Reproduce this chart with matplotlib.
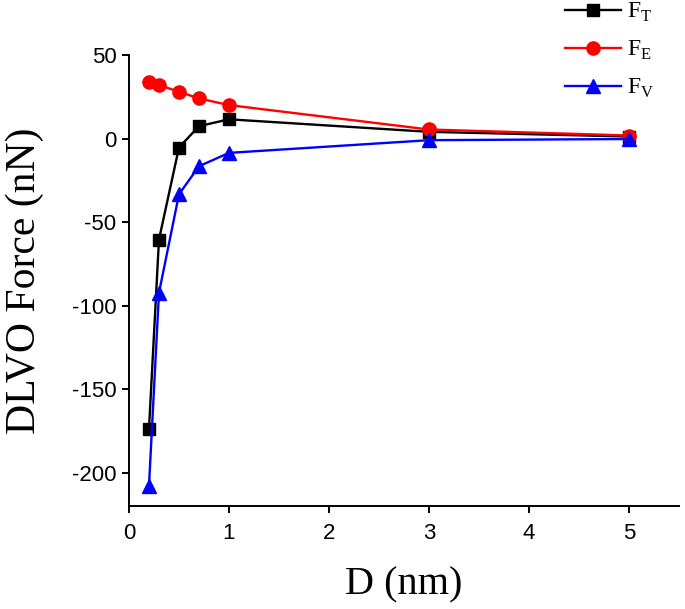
import matplotlib
matplotlib.use("Agg")
import matplotlib.pyplot as plt

plt.rcParams['axes.unicode_minus'] = False
plt.rcParams['mathtext.fontset'] = 'custom'
plt.rcParams['mathtext.rm'] = 'Liberation Serif'

D = [0.2, 0.3, 0.5, 0.7, 1.0, 3.0, 5.0]
F_T = [-174, -60.5, -5.4, 7.4, 11.5, 4.0, 1.2]
F_E = [34, 32, 28, 24, 20, 5.4, 1.8]
F_V = [-208, -92.4, -33.4, -16.6, -8.6, -1.0, -0.3]

xticks = [0, 1, 2, 3, 4, 5]
yticks = [-200, -150, -100, -50, 0, 50]

fig = plt.figure(figsize=(6.85, 6.09), dpi=100)
ax = fig.add_axes([0.1883, 0.1691, 0.8027, 0.7406])

ax.plot(D, F_T, color='black', marker='s', markersize=8, lw=1.7, label=r'F$_\mathregular{T}$')
ax.plot(D, F_E, color='red', marker='o', markersize=9.5, lw=1.7, label=r'F$_\mathregular{E}$')
ax.plot(D, F_V, color='blue', marker='^', markersize=10.5, lw=1.7, label=r'F$_\mathregular{V}$')

ax.set_xlim(0, 5.5)
ax.set_ylim(-220, 50)
ax.set_xticks(xticks)
ax.set_yticks(yticks)
for s in ['top', 'right']:
    ax.spines[s].set_visible(False)
for s in ['left', 'bottom']:
    ax.spines[s].set_linewidth(1.4)
ax.tick_params(direction='out', length=5, width=1.4, labelsize=16)
for lab in ax.get_xticklabels() + ax.get_yticklabels():
    lab.set_fontfamily('Liberation Sans')
ax.tick_params(axis='x', pad=7)
ax.tick_params(axis='y', pad=4)

ax.set_xlabel('D (nm)', fontfamily='Liberation Serif', fontsize=29, labelpad=16)
ax.set_ylabel('DLVO Force (nN)', fontfamily='Liberation Serif', fontsize=30, labelpad=20)

leg = fig.legend(loc='upper left', bbox_to_anchor=(565 / 685, 0.998), frameon=False,
                 prop={'family': 'Liberation Serif', 'size': 17}, handlelength=2.37,
                 labelspacing=0.62, handletextpad=0.25, borderpad=0, borderaxespad=0)

fig.savefig('out.png', dpi=100)
